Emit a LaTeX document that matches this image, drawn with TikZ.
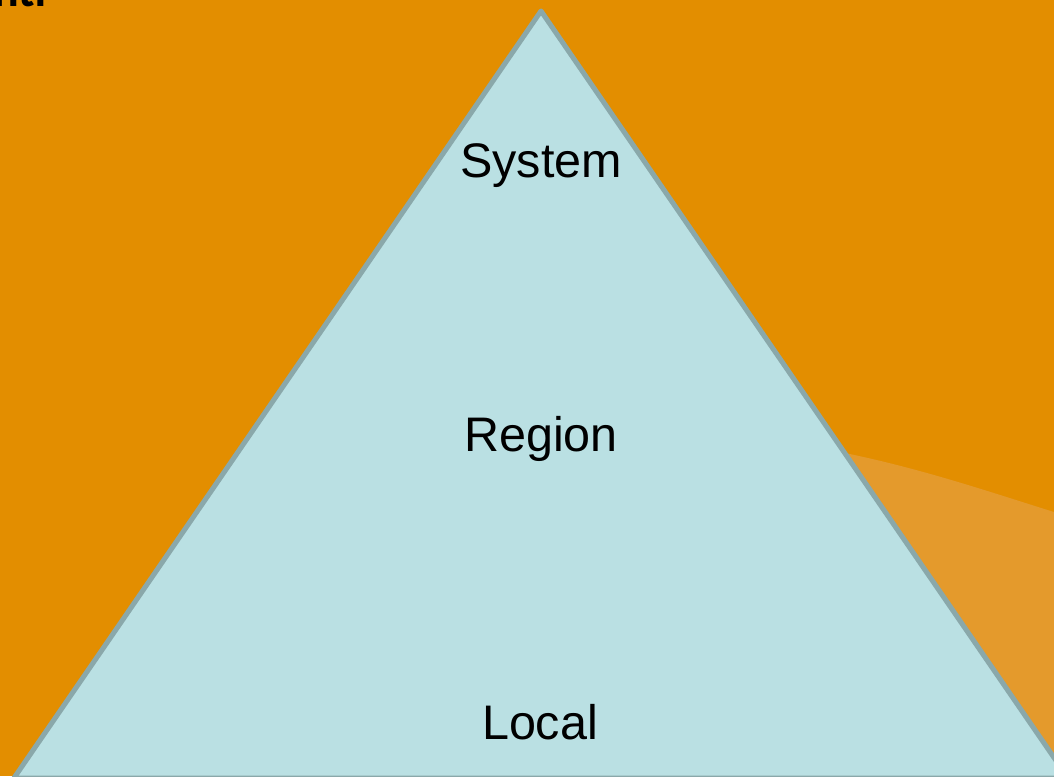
\documentclass[tikz,border=0pt]{standalone}
\usepackage{fontspec}
\setmainfont{Liberation Sans}
\newfontfamily\titlefont{Carlito}
\usepackage{tikz}
\usetikzlibrary{positioning}
\definecolor{slideorange}{RGB}{227,142,0}
\definecolor{glareorange}{RGB}{228,154,44}
\definecolor{pyramidfill}{RGB}{186,224,227}
\definecolor{pyramidline}{RGB}{138,168,170}
\tikzset{
    level label/.style = {font=\fontsize{48.5}{52}\selectfont, text=black, anchor=base, inner sep=0},
    pyramid/.style = {fill=pyramidfill, draw=pyramidline, line width=5pt, line join=round}
}
\begin{document}
\begin{tikzpicture}[x=1pt,y=-1pt]
    \clip (0,0) rectangle (1054,776);
    \fill[slideorange] (0,0) rectangle (1054,776);
    % lighter glare in the lower right
    \fill[glareorange] (840,452) .. controls (920,468) and (990,492) .. (1054,512) -- (1054,776) -- (840,776) -- cycle;
    % cut-off title
    \node[anchor=base east, inner sep=0, font=\titlefont\bfseries\fontsize{48}{52}\selectfont] (title) at (47,7) {nti};
    % the pyramid
    \coordinate (apex) at (541,11);
    \coordinate (left) at (14,778);
    \coordinate (right) at (1068,778);
    \draw[pyramid] (apex) -- (left) -- (right) -- cycle;
    \node[level label] (system) at (541,177) {System};
    \node[level label] (region) at (541,451) {Region};
    \node[level label] (local) at (540,739) {Local};
\end{tikzpicture}
\end{document}
